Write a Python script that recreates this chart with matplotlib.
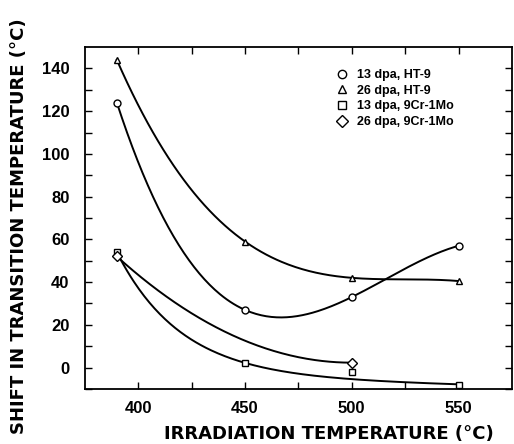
"""
shift in ductile-brittle transition temperature vs irradiation temperature
for HT-9 and 9Cr-1Mo, two fluence levels, with hand-style guide curves
"""

import numpy as np
import matplotlib.pyplot as plt

# data
t_ht9_13 = [390, 450, 500, 550]
s_ht9_13 = [124, 27, 33, 57]

t_ht9_26 = [390, 450, 500, 550]
s_ht9_26 = [144, 59, 42, 40.5]

t_cr_13 = [390, 450, 500, 550]
s_cr_13 = [54, 2, -2.3, -8]

t_cr_26 = [390, 500]
s_cr_26 = [52, 2.3]

labels = ['13 dpa, HT-9', '26 dpa, HT-9', '13 dpa, 9Cr-1Mo', '26 dpa, 9Cr-1Mo']

xticks = [400, 450, 500, 550]
yticks = [0, 20, 40, 60, 80, 100, 120, 140]


def cubic_curve(t, s, n=200):
    """exact cubic through 4 points"""
    c = np.polyfit(t, s, 3)
    xx = np.linspace(t[0], t[-1], n)
    return xx, np.polyval(c, xx)


def decay_curve(t, s, tau=30.0, n=200):
    """least squares fit of a + m*(x-x0) + b*exp(-(x-x0)/tau)"""
    t = np.asarray(t, float)
    s = np.asarray(s, float)
    A = np.column_stack([np.ones_like(t), t - t[0], np.exp(-(t - t[0]) / tau)])
    w = np.array([3.0, 3.0, 1.0, 3.0])  # keep the ends and the knee pinned
    coef, *_ = np.linalg.lstsq(A * w[:, None], s * w, rcond=None)
    xx = np.linspace(t[0], t[-1], n)
    B = np.column_stack([np.ones_like(xx), xx - t[0], np.exp(-(xx - t[0]) / tau)])
    return xx, B @ coef


def flat_end_curve(t, s, n=200):
    """parabola through two points, flat at the last one"""
    xx = np.linspace(t[0], t[-1], n)
    yy = s[-1] + (s[0] - s[-1]) * ((xx - t[-1]) / (t[0] - t[-1]))**2
    return xx, yy


tick_font = {'family': 'Liberation Sans', 'weight': 'bold', 'size': 12}
label_font = {'family': 'DejaVu Sans', 'weight': 'bold', 'size': 13}

fig = plt.figure(figsize=(5.14, 4.44), dpi=100)
ax = fig.add_axes([0.165, 0.124, 0.831, 0.770])

lw = 1.4
ax.plot(*cubic_curve(t_ht9_13, s_ht9_13), color='k', lw=lw)
ax.plot(*cubic_curve(t_ht9_26, s_ht9_26), color='k', lw=lw)
ax.plot(*decay_curve(t_cr_13, s_cr_13), color='k', lw=lw)
ax.plot(*flat_end_curve(t_cr_26, s_cr_26), color='k', lw=lw)

mk = dict(color='k', mfc='white', mew=1.0, ls='none', zorder=3)
ax.plot(t_ht9_13, s_ht9_13, marker='o', ms=5, label=labels[0], **mk)
ax.plot(t_ht9_26, s_ht9_26, marker='^', ms=5, label=labels[1], **mk)
ax.plot(t_cr_13, s_cr_13, marker='s', ms=5, label=labels[2], **mk)
ax.plot(t_cr_26, s_cr_26, marker='D', ms=5, label=labels[3], **mk)

ax.set_xlim(375, 575)
ax.set_ylim(-10, 150)

ax.set_xticks(xticks)
ax.set_xticks(np.arange(425, 575, 50), minor=True)
ax.set_yticks(yticks)
ax.set_yticks(np.arange(-10, 150, 20), minor=True)
ax.set_xticklabels([str(v) for v in xticks], fontdict=tick_font)
ax.set_yticklabels([str(v) for v in yticks], fontdict=tick_font)
ax.tick_params(which='both', direction='in', top=True, right=True, width=1.0)
ax.tick_params(which='major', length=5)
ax.tick_params(which='minor', length=5)
ax.tick_params(axis='x', which='both', pad=9)
ax.tick_params(axis='y', which='both', pad=11)
for sp in ax.spines.values():
    sp.set_linewidth(1.3)

fig.text(0.640, 0.012, 'IRRADIATION TEMPERATURE (°C)', ha='center', va='baseline',
         fontdict=label_font)
fig.text(0.037, 0.49, 'SHIFT IN TRANSITION TEMPERATURE (°C)', ha='center',
         va='center', rotation=90, fontdict=label_font)

leg = ax.legend(loc='upper left', bbox_to_anchor=(0.594, 0.936), frameon=False,
                handlelength=0.6, handletextpad=0.9, borderaxespad=0, borderpad=0,
                labelspacing=0.3, prop={'family': 'Liberation Sans', 'weight': 'bold',
                                        'size': 9})
for h in leg.legend_handles:
    h.set_markersize(6)

fig.savefig('out.png', dpi=100)
